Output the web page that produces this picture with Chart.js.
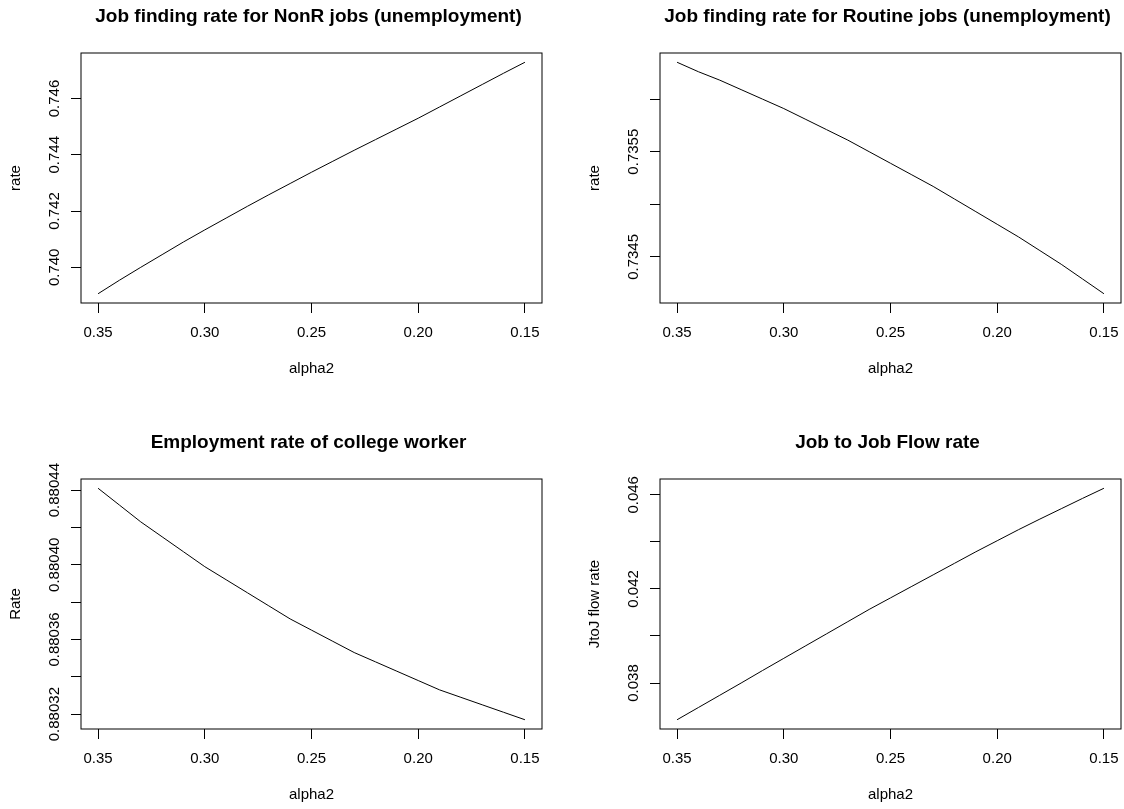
<!DOCTYPE html>
<html>
<head>
<meta charset="utf-8">
<script src="https://cdn.jsdelivr.net/npm/chart.js@4.4.1/dist/chart.umd.min.js"></script>
<style>
  html, body { margin: 0; padding: 0; background: #fff; overflow: hidden; width: 1124px; height: 809px; }
  canvas { position: absolute; }
</style>
</head>
<body>
<canvas id="nonr" width="562" height="405" style="left:0px;top:0px"></canvas>
<canvas id="routine" width="562" height="405" style="left:579px;top:0px"></canvas>
<canvas id="college" width="562" height="405" style="left:0px;top:426px"></canvas>
<canvas id="jtoj" width="562" height="405" style="left:579px;top:426px"></canvas>
<script>
// alpha2 grid (plotted right-to-left, from 0.35 down to 0.15)
const alpha2 = [0.35, 0.34, 0.33, 0.32, 0.31, 0.30, 0.29, 0.28, 0.27, 0.26, 0.25,
                0.24, 0.23, 0.22, 0.21, 0.20, 0.19, 0.18, 0.17, 0.16, 0.15];

// Job finding rate for non-routine jobs out of unemployment
const nonrFinding = [0.73906, 0.73954, 0.74000, 0.74045, 0.74090, 0.74133, 0.74175,
                     0.74217, 0.74258, 0.74298, 0.74338, 0.74377, 0.74416, 0.74454,
                     0.74492, 0.74530, 0.74570, 0.74610, 0.74650, 0.74690, 0.74729];

// Job finding rate for routine jobs out of unemployment
const routineFinding = [0.73635, 0.73626, 0.73618, 0.73609, 0.73600, 0.73591, 0.73581,
                        0.73571, 0.73561, 0.73550, 0.73539, 0.73528, 0.73517, 0.73505,
                        0.73493, 0.73481, 0.73469, 0.73456, 0.73443, 0.73429, 0.73415];

// Employment rate of college workers
const collegeEmployment = [0.880441, 0.880432, 0.880423, 0.880415, 0.880407, 0.880399,
                           0.880392, 0.880385, 0.880378, 0.880371, 0.880365, 0.880359,
                           0.880353, 0.880348, 0.880343, 0.880338, 0.880333, 0.880329,
                           0.880325, 0.880321, 0.880317];

// Job-to-job flow rate
const jtojFlow = [0.03644, 0.03696, 0.03748, 0.03800, 0.03853, 0.03905, 0.03957,
                  0.04009, 0.04061, 0.04113, 0.04162, 0.04211, 0.04260, 0.04309,
                  0.04358, 0.04405, 0.04452, 0.04497, 0.04541, 0.04585, 0.04628];

// Axis ticks
const xTickValues = [0.35, 0.30, 0.25, 0.20, 0.15];
const xTickLabels = ['0.35', '0.30', '0.25', '0.20', '0.15'];

const nonrTicks = [0.740, 0.742, 0.744, 0.746];
const nonrTickLabels = ['0.740', '0.742', '0.744', '0.746'];

const routineTicks = [0.7345, 0.7350, 0.7355, 0.7360];
const routineTickLabels = ['0.7345', '', '0.7355', ''];

const collegeTicks = [0.88032, 0.88034, 0.88036, 0.88038, 0.88040, 0.88042, 0.88044];
const collegeTickLabels = ['0.88032', '', '0.88036', '', '0.88040', '', '0.88044'];

const jtojTicks = [0.038, 0.040, 0.042, 0.044, 0.046];
const jtojTickLabels = ['0.038', '', '0.042', '', '0.046'];

const FONT = '"Liberation Sans", Arial, Helvetica, sans-serif';

// R-style axis range: data range widened by 4% on each side
function paddedRange(values) {
  const lo = Math.min(...values), hi = Math.max(...values);
  const pad = (hi - lo) * 0.04;
  return { min: lo - pad, max: hi + pad };
}

function drawPanel(canvasId, title, yTitle, values, yTicks, yTickLabels) {
  const xr = paddedRange(alpha2);
  const yr = paddedRange(values);

  // frame, main title and rotated y tick labels
  const framePlugin = {
    id: 'frame',
    afterDraw(chart) {
      const { ctx, chartArea: a, scales } = chart;
      ctx.save();
      ctx.strokeStyle = '#000';
      ctx.lineWidth = 1;
      ctx.strokeRect(a.left, a.top, a.right - a.left, a.bottom - a.top);

      ctx.fillStyle = '#000';
      ctx.font = 'bold 19px ' + FONT;
      ctx.textAlign = 'center';
      ctx.textBaseline = 'alphabetic';
      ctx.fillText(title, (a.left + a.right) / 2 - 3, a.top - 31.4);

      ctx.font = '15px ' + FONT;
      yTicks.forEach((v, i) => {
        const label = yTickLabels[i];
        if (!label) return;
        const py = scales.y.getPixelForValue(v);
        ctx.save();
        ctx.translate(a.left - 21.7, py);
        ctx.rotate(-Math.PI / 2);
        ctx.textAlign = 'center';
        ctx.textBaseline = 'alphabetic';
        ctx.fillText(label, 0, 0);
        ctx.restore();
      });
      ctx.restore();
    }
  };

  new Chart(document.getElementById(canvasId), {
    type: 'line',
    data: {
      datasets: [{
        data: alpha2.map((a, i) => ({ x: a, y: values[i] })),
        borderColor: '#000',
        borderWidth: 1,
        pointRadius: 0,
        tension: 0,
        fill: false
      }]
    },
    options: {
      responsive: false,
      animation: false,
      events: [],
      layout: { padding: { left: 0, right: 20, top: 53, bottom: 0 }, autoPadding: false },
      plugins: {
        legend: { display: false },
        tooltip: { enabled: false },
        title: { display: false }
      },
      scales: {
        x: {
          type: 'linear',
          reverse: true,
          min: xr.min,
          max: xr.max,
          afterBuildTicks: s => { s.ticks = xTickValues.map(v => ({ value: v })); },
          afterFit: s => { s.height = 102; },
          grid: { drawOnChartArea: false, drawTicks: true, tickLength: 10, color: '#000', lineWidth: 1 },
          border: { display: false },
          ticks: {
            autoSkip: false,
            maxRotation: 0,
            minRotation: 0,
            padding: 11,
            color: '#000',
            font: { family: FONT, size: 15 },
            callback: (v, i) => xTickLabels[i]
          },
          title: {
            display: true,
            text: 'alpha2',
            color: '#000',
            font: { family: FONT, size: 15 },
            padding: { top: 0, bottom: 26.8 }
          }
        },
        y: {
          type: 'linear',
          min: yr.min,
          max: yr.max,
          afterBuildTicks: s => { s.ticks = yTicks.map(v => ({ value: v })); },
          afterFit: s => { s.width = 81; },
          grid: { drawOnChartArea: false, drawTicks: true, tickLength: 10, color: '#000', lineWidth: 1 },
          border: { display: false },
          ticks: { display: false },
          title: {
            display: true,
            text: yTitle,
            color: '#000',
            font: { family: FONT, size: 15 },
            padding: { top: 7, bottom: 0 }
          }
        }
      }
    },
    plugins: [framePlugin]
  });
}

drawPanel('nonr', 'Job finding rate for NonR jobs (unemployment)', 'rate',
          nonrFinding, nonrTicks, nonrTickLabels);
drawPanel('routine', 'Job finding rate for Routine jobs (unemployment)', 'rate',
          routineFinding, routineTicks, routineTickLabels);
drawPanel('college', 'Employment rate of college worker', 'Rate',
          collegeEmployment, collegeTicks, collegeTickLabels);
drawPanel('jtoj', 'Job to Job Flow rate', 'JtoJ flow rate',
          jtojFlow, jtojTicks, jtojTickLabels);
</script>
</body>
</html>
